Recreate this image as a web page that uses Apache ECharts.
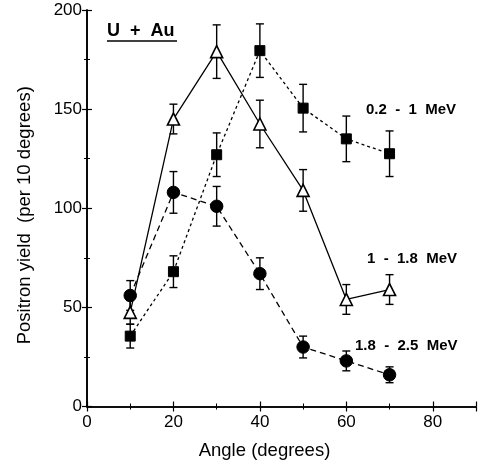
<!DOCTYPE html>
<html>
<head>
<meta charset="utf-8">
<script src="https://cdn.jsdelivr.net/npm/echarts@6/dist/echarts.min.js"></script>
<style>
  html, body { margin: 0; padding: 0; background: #fff; }
  #chart { width: 479px; height: 466px; }
</style>
</head>
<body>
<div id="chart"></div>
<script>
// Emission angles (degrees)
const angles = [10, 20, 30, 40, 50, 60, 70];

// Positron yield per 10 degrees, three energy windows, with ± errors
const yield02to1 = [35.5, 68, 127, 179.5, 150.5, 135, 127.5];
const err02to1   = [6, 8, 11, 13.5, 12, 11.5, 11.5];

const yield1to18 = [47.5, 145, 179, 142.5, 109, 54, 59];
const err1to18   = [6, 7.5, 13.5, 12, 10.5, 7.5, 7.5];

const yield18to25 = [56, 108, 101, 67, 30, 23, 16];
const err18to25   = [7.5, 10.5, 10, 8, 5.5, 5, 4];

const seriesNames = ['0.2  -  1  MeV', '1  -  1.8  MeV', '1.8  -  2.5  MeV'];
const xTicks = [0, 20, 40, 60, 80];
const yTicks = [0, 50, 100, 150, 200];

const FONT = '"Liberation Sans", Arial, Helvetica, sans-serif';
const chart = echarts.init(document.getElementById('chart'), null, { renderer: 'canvas' });

function points(ys) { return angles.map((a, i) => [a, ys[i]]); }
function bars(ys, es) { return angles.map((a, i) => [a, ys[i] - es[i], ys[i] + es[i]]); }

function errorBarSeries(ys, es) {
  return {
    type: 'custom',
    data: bars(ys, es),
    z: 1,
    silent: true,
    renderItem: function (params, api) {
      const x = api.value(0);
      const lo = api.coord([x, api.value(1)]);
      const hi = api.coord([x, api.value(2)]);
      const cap = 4;
      const style = { stroke: '#000', lineWidth: 1.4 };
      return {
        type: 'group',
        children: [
          { type: 'line', shape: { x1: lo[0], y1: lo[1], x2: hi[0], y2: hi[1] }, style: style },
          { type: 'line', shape: { x1: lo[0] - cap, y1: lo[1], x2: lo[0] + cap, y2: lo[1] }, style: style },
          { type: 'line', shape: { x1: hi[0] - cap, y1: hi[1], x2: hi[0] + cap, y2: hi[1] }, style: style }
        ]
      };
    }
  };
}

const axisCommon = {
  axisLine: { show: true, lineStyle: { color: '#000', width: 1.6 } },
  axisTick: { show: true, inside: true, length: 5, lineStyle: { color: '#000', width: 1.2 } },
  minorTick: { show: true, splitNumber: 2, length: 3, lineStyle: { color: '#000', width: 1 } },
  splitLine: { show: false }
};

const option = {
  animation: false,
  backgroundColor: '#fff',
  grid: { left: 87, top: 10, right: -2, bottom: 59.5 },
  xAxis: [
    Object.assign({
      type: 'value', min: 0, max: 90, interval: 20, position: 'bottom',
      name: 'Angle (degrees)', nameLocation: 'middle', nameGap: 35,
      nameTextStyle: { fontFamily: FONT, fontSize: 18.5, color: '#000', padding: [0, 34, 0, 0] },
      axisLabel: {
        fontFamily: FONT, fontSize: 17, color: '#000', margin: 7,
        formatter: v => (xTicks.indexOf(v) >= 0 ? String(v) : '')
      }
    }, axisCommon),
    Object.assign({
      type: 'value', min: 0, max: 90, interval: 20, position: 'top',
      axisLabel: { show: false }
    }, axisCommon)
  ],
  yAxis: [
    Object.assign({
      type: 'value', min: 0, max: 200, interval: 50, position: 'left',
      name: 'Positron yield  (per 10 degrees)', nameLocation: 'middle', nameGap: 53,
      nameTextStyle: { fontFamily: FONT, fontSize: 18.5, color: '#000', padding: [0, 14, 0, 0] },
      axisLabel: {
        fontFamily: FONT, fontSize: 17, color: '#000', margin: 5,
        formatter: v => (yTicks.indexOf(v) >= 0 ? String(v) : '')
      }
    }, axisCommon),
    Object.assign({
      type: 'value', min: 0, max: 200, interval: 50, position: 'right',
      axisLabel: { show: false }
    }, axisCommon)
  ],
  series: [
    errorBarSeries(yield02to1, err02to1),
    errorBarSeries(yield1to18, err1to18),
    errorBarSeries(yield18to25, err18to25),
    {
      name: seriesNames[0], type: 'line', data: points(yield02to1), z: 3,
      symbol: 'rect', symbolSize: 10,
      itemStyle: { color: '#000', borderColor: '#000' },
      lineStyle: { color: '#000', width: 1.3, type: [3, 3] }
    },
    {
      name: seriesNames[1], type: 'line', data: points(yield1to18), z: 4,
      symbol: 'triangle', symbolSize: 12,
      itemStyle: { color: '#fff', borderColor: '#000', borderWidth: 1.6 },
      lineStyle: { color: '#000', width: 1.3, type: 'solid' }
    },
    {
      name: seriesNames[2], type: 'line', data: points(yield18to25), z: 3,
      symbol: 'circle', symbolSize: 12.5,
      itemStyle: { color: '#000', borderColor: '#000' },
      lineStyle: { color: '#000', width: 1.3, type: [6, 4] }
    }
  ],
  graphic: [
    { type: 'text', left: 107, top: 22,
      style: { text: 'U  +  Au', font: 'bold 18px ' + FONT, fill: '#000' } },
    { type: 'line', shape: { x1: 107, y1: 41, x2: 177, y2: 41 },
      style: { stroke: '#000', lineWidth: 1.5 } },
    { type: 'text', left: 366, top: 102,
      style: { text: seriesNames[0], font: 'bold 15px ' + FONT, fill: '#000' } },
    { type: 'text', left: 367, top: 251,
      style: { text: seriesNames[1], font: 'bold 15px ' + FONT, fill: '#000' } },
    { type: 'text', left: 355, top: 338,
      style: { text: seriesNames[2], font: 'bold 15px ' + FONT, fill: '#000' } }
  ]
};

chart.setOption(option);
</script>
</body>
</html>
